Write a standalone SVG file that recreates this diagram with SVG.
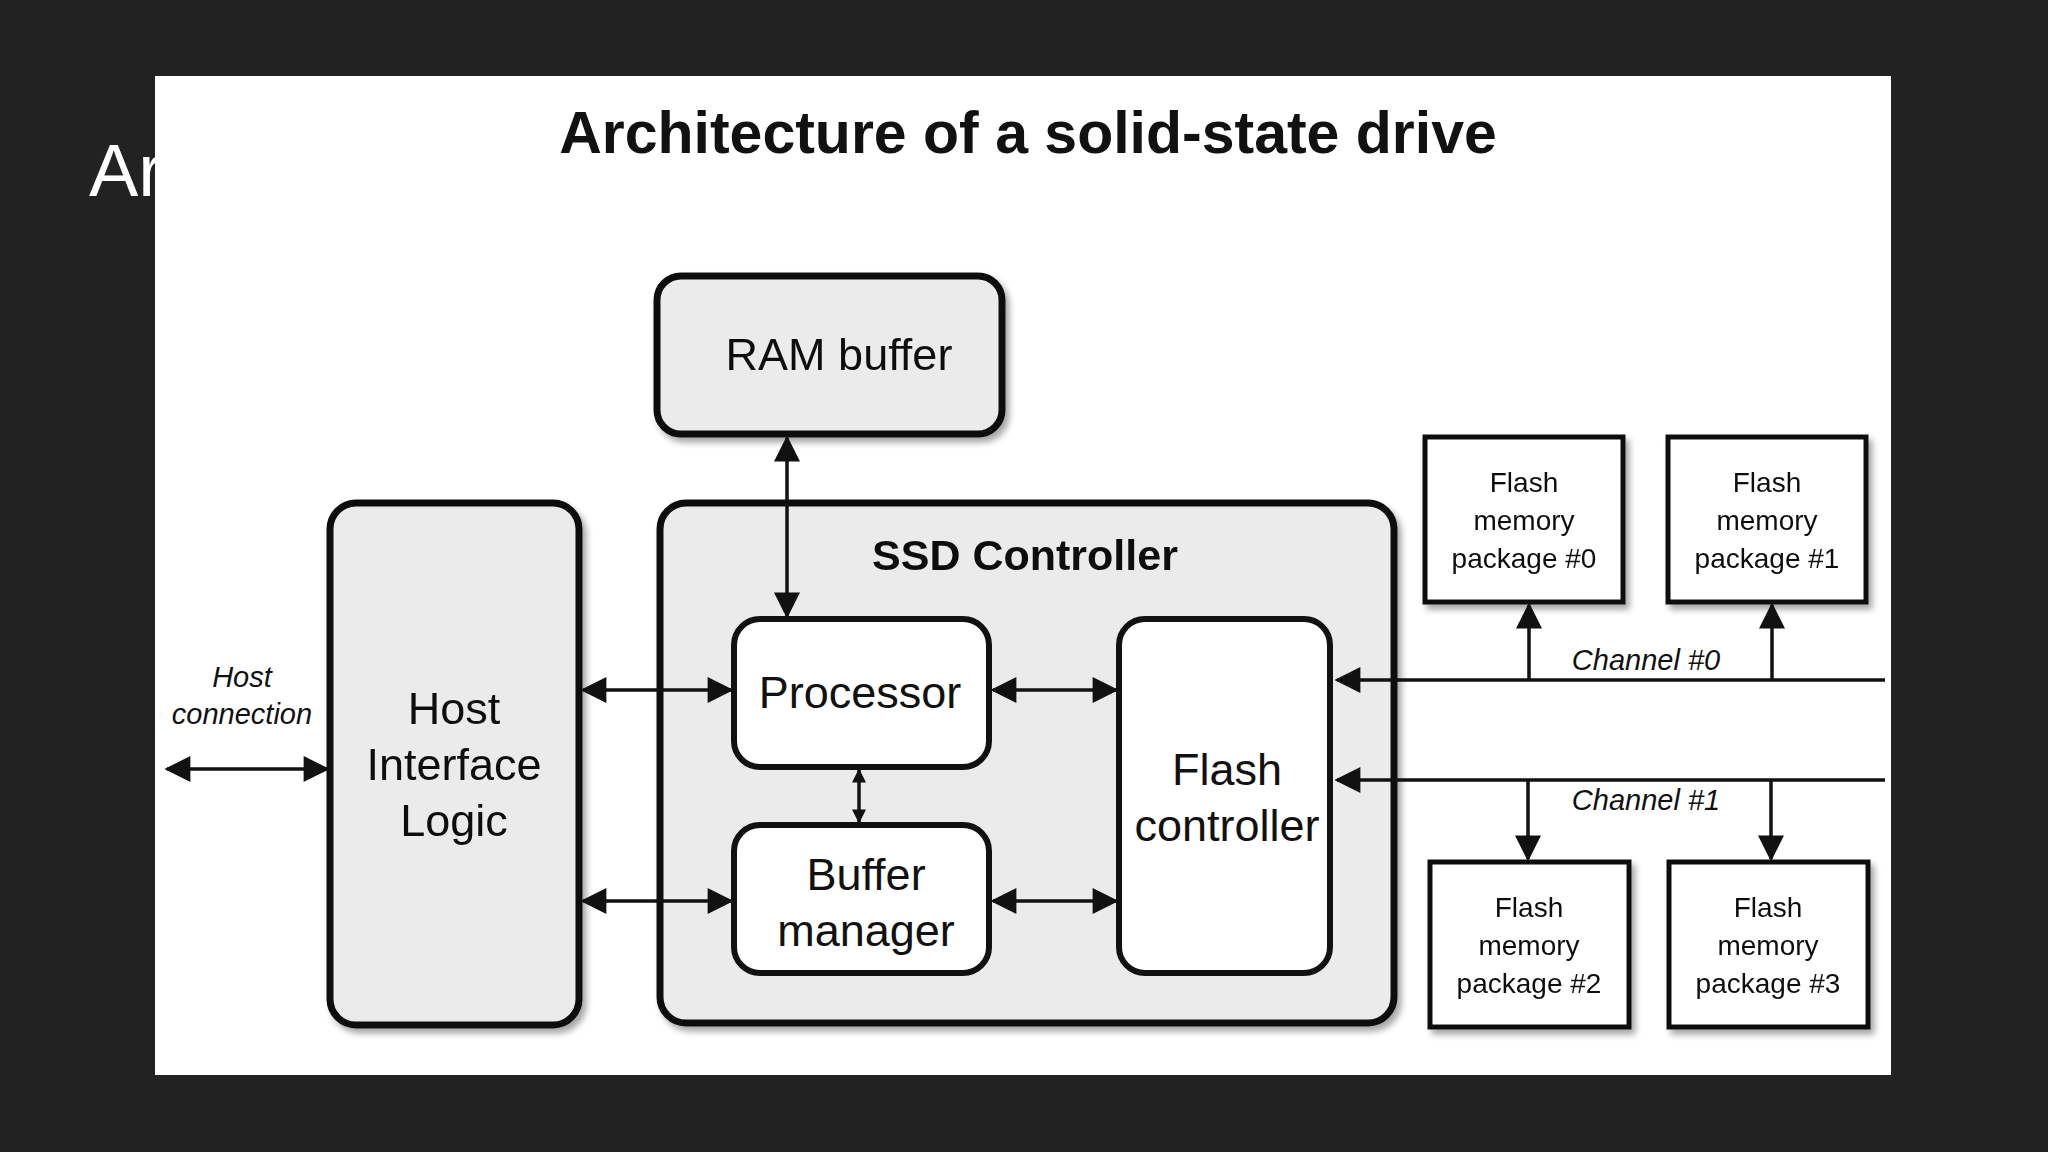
<svg xmlns="http://www.w3.org/2000/svg" width="2048" height="1152" viewBox="0 0 2048 1152">
<style>
.b{fill:#ebebeb;stroke:#111;stroke-width:7}
.w{fill:#fff;stroke:#111;stroke-width:6}
.p{fill:#fff;stroke:#111;stroke-width:5}
.t{font-family:"Liberation Sans",Arial,sans-serif;fill:#111;text-anchor:middle}
.n{font-size:45px}
.s{font-size:28px}
.i{font-size:29px;font-style:italic}
.c line{stroke:#111;stroke-width:3.5}
</style>
<defs>
<marker id="a" viewBox="0 0 10 10" refX="9" refY="5" markerWidth="16" markerHeight="14" markerUnits="userSpaceOnUse" orient="auto-start-reverse"><path d="M0,0L10,5L0,10z" fill="#111"/></marker>
<marker id="m" viewBox="0 0 10 10" refX="9" refY="5" markerWidth="32" markerHeight="26" markerUnits="userSpaceOnUse" orient="auto-start-reverse"><path d="M0,0L10,5L0,10z" fill="#111"/></marker>
<filter id="sh" x="-10%" y="-10%" width="130%" height="130%"><feDropShadow dx="4" dy="5" stdDeviation="3" flood-color="#000" flood-opacity="0.35"/></filter>
</defs>
<rect width="2048" height="1152" fill="#222"/>
<text x="89" y="196" font-family="Liberation Sans,Arial,sans-serif" font-size="74" fill="#fff">Ar</text>
<rect x="155" y="76" width="1736" height="999" fill="#fff"/>
<text class="t" x="1028" y="153" font-size="59" font-weight="bold">Architecture of a solid-state drive</text>
<g id="ram" filter="url(#sh)"><rect class="b" x="657" y="276" width="345" height="158" rx="24"/><text class="t n" x="839" y="370">RAM buffer</text></g>
<g id="hil" filter="url(#sh)"><rect class="b" x="330" y="503" width="249" height="522" rx="26"/><text class="t n" x="454" y="724">Host</text><text class="t n" x="454" y="780">Interface</text><text class="t n" x="454" y="836">Logic</text></g>
<g id="ssd" filter="url(#sh)"><rect class="b" x="660" y="503" width="734" height="520" rx="26"/><text class="t" x="1025" y="570" font-size="43" font-weight="bold">SSD Controller</text></g>
<g id="proc"><rect class="w" x="734" y="619" width="255" height="148" rx="26"/><text class="t n" x="860" y="708">Processor</text></g>
<g id="buf"><rect class="w" x="734" y="825" width="255" height="148" rx="26"/><text class="t n" x="866" y="890">Buffer</text><text class="t n" x="866" y="946">manager</text></g>
<g id="fc"><rect class="w" x="1119" y="619" width="211" height="354" rx="26"/><text class="t n" x="1227" y="785">Flash</text><text class="t n" x="1227" y="841">controller</text></g>
<g id="f0" filter="url(#sh)"><rect class="p" x="1425" y="437" width="198" height="165"/><text class="t s" x="1524" y="492">Flash</text><text class="t s" x="1524" y="530">memory</text><text class="t s" x="1524" y="568">package #0</text></g>
<g id="f1" filter="url(#sh)"><rect class="p" x="1668" y="437" width="198" height="165"/><text class="t s" x="1767" y="492">Flash</text><text class="t s" x="1767" y="530">memory</text><text class="t s" x="1767" y="568">package #1</text></g>
<g id="f2" filter="url(#sh)"><rect class="p" x="1430" y="862" width="199" height="165"/><text class="t s" x="1529" y="917">Flash</text><text class="t s" x="1529" y="955">memory</text><text class="t s" x="1529" y="993">package #2</text></g>
<g id="f3" filter="url(#sh)"><rect class="p" x="1669" y="862" width="199" height="165"/><text class="t s" x="1768" y="917">Flash</text><text class="t s" x="1768" y="955">memory</text><text class="t s" x="1768" y="993">package #3</text></g>
<g class="c">
<line x1="167" y1="769" x2="327" y2="769" marker-start="url(#m)" marker-end="url(#m)"/>
<line x1="583" y1="690" x2="731" y2="690" marker-start="url(#m)" marker-end="url(#m)"/>
<line x1="583" y1="901" x2="731" y2="901" marker-start="url(#m)" marker-end="url(#m)"/>
<line x1="993" y1="690" x2="1116" y2="690" marker-start="url(#m)" marker-end="url(#m)"/>
<line x1="993" y1="901" x2="1116" y2="901" marker-start="url(#m)" marker-end="url(#m)"/>
<line x1="787" y1="438" x2="787" y2="616" marker-start="url(#m)" marker-end="url(#m)"/>
<line x1="859" y1="770" x2="859" y2="822" marker-start="url(#a)" marker-end="url(#a)"/>
<line x1="1885" y1="680" x2="1337" y2="680" marker-end="url(#m)"/>
<line x1="1885" y1="780" x2="1337" y2="780" marker-end="url(#m)"/>
<line x1="1529" y1="680" x2="1529" y2="605" marker-end="url(#m)"/>
<line x1="1772" y1="680" x2="1772" y2="605" marker-end="url(#m)"/>
<line x1="1528" y1="780" x2="1528" y2="859" marker-end="url(#m)"/>
<line x1="1771" y1="780" x2="1771" y2="859" marker-end="url(#m)"/>
</g>
<text class="t i" x="242" y="687">Host</text>
<text class="t i" x="242" y="724">connection</text>
<text class="t i" x="1646" y="670">Channel #0</text>
<text class="t i" x="1646" y="810">Channel #1</text>
</svg>
